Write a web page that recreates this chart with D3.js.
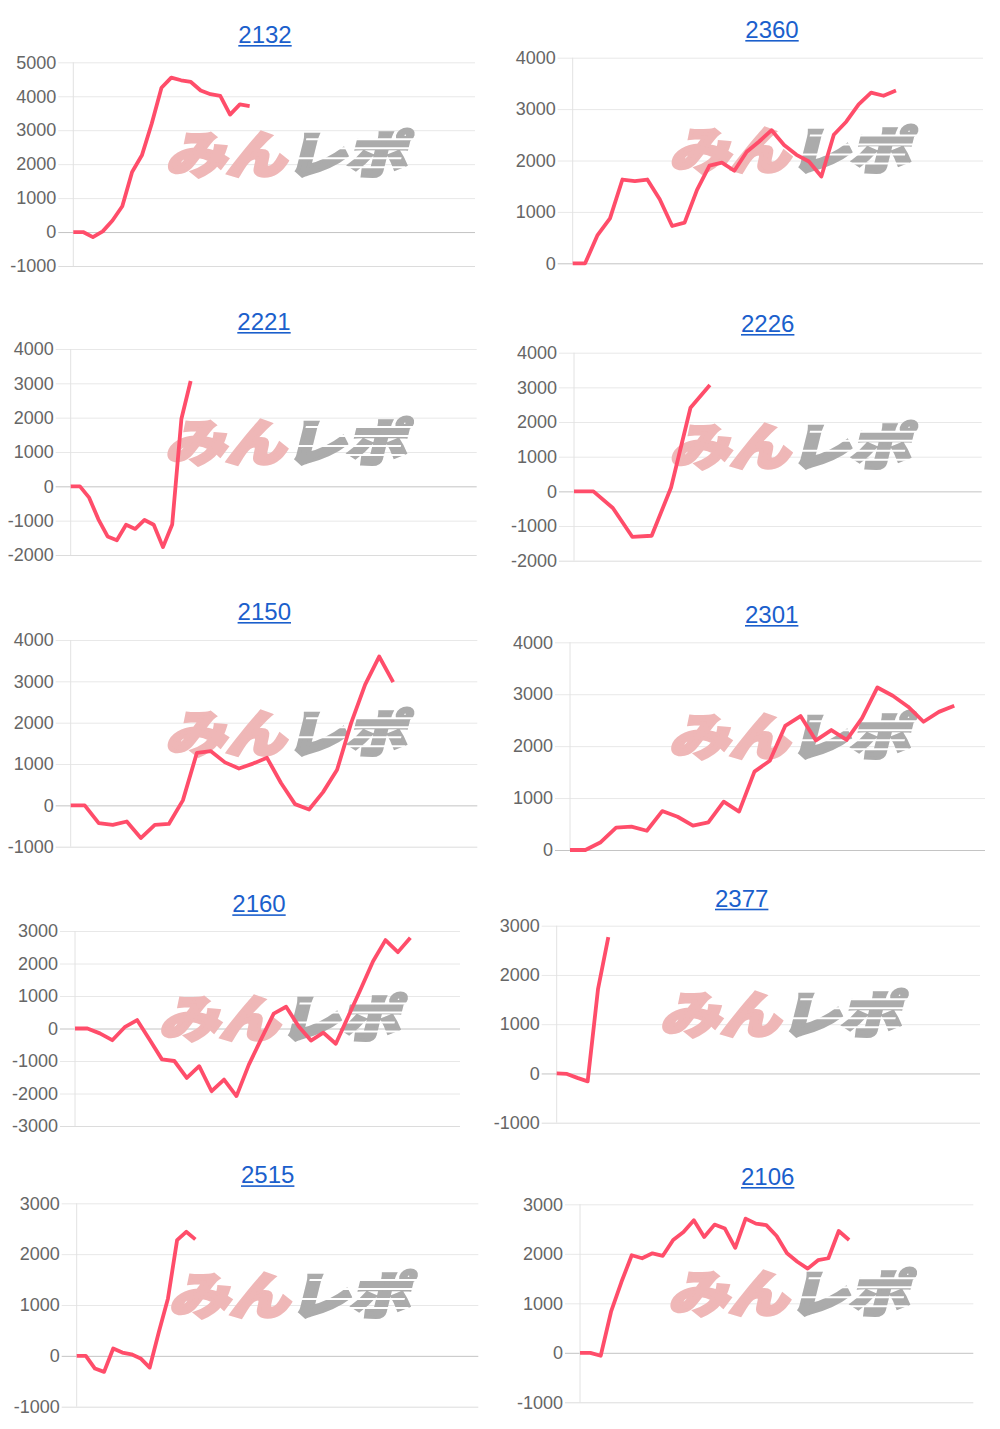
<!DOCTYPE html>
<html>
<head>
<meta charset="utf-8">
<script src="https://cdnjs.cloudflare.com/ajax/libs/d3/7.8.5/d3.min.js"></script>
<style>
  body { margin: 0; background: #fff; }
  svg { display: block; }
  .tick text { font-family: "Liberation Sans", Arial, sans-serif; font-size: 18px; fill: #666; }
  .title { font-family: "Liberation Sans", Arial, sans-serif; font-size: 24px; fill: #1b5fcc; }
</style>
</head>
<body>
<svg id="chart" width="1000" height="1429"></svg>
<script>
// machine numbers, in page order (left to right, top to bottom)
var titles = ["2132", "2360", "2221", "2226", "2150", "2301", "2160", "2377", "2515", "2106"];

// y axis range of each panel, ticks every 1000
var yDomains = [
    [-1000, 5000], [0, 4000],
    [-2000, 4000], [-2000, 4000],
    [-1000, 4000], [0, 4000],
    [-3000, 3000], [-1000, 3000],
    [-1000, 3000], [-1000, 3000]
];

// number of x slots on each panel (the line only fills part of it)
var slots = [41, 33, 44, 21, 29, 27, 31, 41, 44, 38];

// differential coins, one value per slot
var s2132 = [0, 0, -150, 20, 340, 760, 1770, 2260, 3190, 4250, 4550, 4470, 4420, 4170, 4060, 4010, 3460, 3760, 3710];
var s2360 = [0, 0, 550, 875, 1630, 1600, 1630, 1245, 725, 790, 1430, 1900, 1960, 1800, 2170, 2370, 2590, 2300, 2110, 1980, 1690, 2500, 2755, 3090, 3320, 3260, 3360];
var s2221 = [0, 0, -330, -960, -1460, -1570, -1120, -1240, -980, -1120, -1770, -1110, 1970, 3070];
var s2226 = [0, 0, -480, -1310, -1280, 110, 2410, 3070];
var s2150 = [0, 0, -430, -470, -390, -790, -470, -450, 120, 1270, 1310, 1040, 890, 1010, 1150, 540, 30, -100, 320, 860, 1990, 2920, 3600, 2980];
var s2301 = [0, 0, 150, 430, 450, 370, 750, 640, 470, 530, 930, 740, 1510, 1720, 2390, 2580, 2110, 2310, 2120, 2540, 3130, 2970, 2760, 2470, 2660, 2780];
var s2160 = [0, 0, -150, -360, 40, 260, -340, -950, -1000, -1520, -1160, -1930, -1570, -2080, -1110, -320, 460, 670, 70, -370, -130, -470, 370, 1210, 2070, 2720, 2350, 2790];
var s2377 = [0, -10, -90, -160, 1710, 2770];
var s2515 = [0, 0, -250, -315, 145, 65, 30, -50, -230, 470, 1130, 2275, 2440, 2290];
var s2106 = [0, 0, -60, 830, 1430, 1970, 1910, 2010, 1960, 2280, 2440, 2680, 2340, 2590, 2510, 2120, 2710, 2610, 2580, 2360, 2010, 1840, 1700, 1870, 1910, 2460, 2280];

var series = [s2132, s2360, s2221, s2226, s2150, s2301, s2160, s2377, s2515, s2106];

// panel boxes on the page: plot edges, title centre and baseline
var layout = [
    {left: 73.3,  right: 475,   top: 62.3,   bottom: 266,    cx: 265,   ty: 43},
    {left: 572.7, right: 983,   top: 57.7,   bottom: 263.3,  cx: 772,   ty: 38},
    {left: 70.7,  right: 476.7, top: 349,    bottom: 555,    cx: 264,   ty: 330},
    {left: 574,   right: 981.7, top: 352.7,  bottom: 560.7,  cx: 767.7, ty: 332},
    {left: 70.7,  right: 477.3, top: 640,    bottom: 846.7,  cx: 264.3, ty: 620},
    {left: 570,   right: 985,   top: 642.3,  bottom: 850,    cx: 771.7, ty: 623},
    {left: 75,    right: 460,   top: 931,    bottom: 1126,   cx: 259,   ty: 912.3},
    {left: 556.7, right: 980,   top: 925.7,  bottom: 1122.7, cx: 741.7, ty: 906.7},
    {left: 76.7,  right: 478.3, top: 1203.3, bottom: 1406.7, cx: 267.7, ty: 1183.3},
    {left: 580,   right: 973.3, top: 1204.3, bottom: 1402.3, cx: 767.7, ty: 1185}
];

var titleColor = "#1b5fcc";
var lineColor = "#ff4d6a";

var svg = d3.select("#chart");

titles.forEach(function(name, k) {
    var L = layout[k];
    var w = L.right - L.left;

    var x = d3.scaleLinear().domain([0, slots[k]]).range([L.left, L.right]);
    var y = d3.scaleLinear().domain(yDomains[k]).range([L.bottom, L.top]);
    var ticks = d3.range(yDomains[k][0], yDomains[k][1] + 1, 1000);

    var g = svg.append("g").attr("class", "panel");

    // title, underlined like a link
    var t = g.append("text")
        .attr("class", "title")
        .attr("x", L.cx)
        .attr("y", L.ty)
        .attr("text-anchor", "middle")
        .text(name);
    var tw = t.node().getComputedTextLength();
    g.append("rect")
        .attr("x", L.cx - tw / 2)
        .attr("y", L.ty + 2)
        .attr("width", tw)
        .attr("height", 1.6)
        .attr("fill", titleColor);

    // y axis with full width gridlines
    var yAxis = d3.axisLeft(y)
        .tickValues(ticks)
        .tickSizeInner(-(w + 15))
        .tickSizeOuter(0)
        .tickPadding(2)
        .tickFormat(function(d) { return String(d); });

    var ag = g.append("g")
        .attr("transform", "translate(" + (L.left - 15) + ",0)")
        .call(yAxis);
    ag.select(".domain").remove();
    ag.selectAll(".tick line")
        .attr("stroke", function(d) {
            if (d === 0) return "#c4c4c4";
            if (d === yDomains[k][0]) return "#dcdcdc";
            return "#e8e8e8";
        });

    g.append("line")
        .attr("x1", L.left).attr("x2", L.left)
        .attr("y1", L.top).attr("y2", L.bottom)
        .attr("stroke", "#e2e2e2");

    // watermark
    var wcx = (L.left + L.right) / 2 + 17;
    var wcy = (L.top + L.bottom) / 2 - 13;
    var wm = g.append("g")
        .attr("transform", "translate(" + wcx + "," + wcy + ") skewX(-14)");
    var wt = wm.append("text")
        .attr("text-anchor", "middle")
        .attr("dominant-baseline", "central")
        .attr("font-family", '"Noto Sans CJK JP", sans-serif')
        .attr("font-weight", 900)
        .attr("font-size", 50)
        .attr("stroke-width", 3.5)
        .attr("stroke-linejoin", "miter")
        .attr("textLength", 240)
        .attr("lengthAdjust", "spacingAndGlyphs");
    wt.append("tspan").attr("fill", "#efb7b7").attr("stroke", "#efb7b7").text("みん");
    wt.append("tspan").attr("fill", "#ababab").attr("stroke", "#ababab").text("レポ");

    var stripes = [[-13, 12, 120], [-4, 40, 124], [6, 4, 112], [15, 48, 118]];
    stripes.forEach(function(s) {
        wm.append("rect")
            .attr("x", s[1]).attr("y", s[0])
            .attr("width", s[2] - s[1]).attr("height", 2)
            .attr("fill", "#fff");
    });

    // the line
    var line = d3.line()
        .x(function(d, i) { return x(i); })
        .y(function(d) { return y(d); });

    g.append("path")
        .datum(series[k])
        .attr("d", line)
        .attr("fill", "none")
        .attr("stroke", lineColor)
        .attr("stroke-width", 3.8)
        .attr("stroke-linejoin", "round");
});
</script>
</body>
</html>
